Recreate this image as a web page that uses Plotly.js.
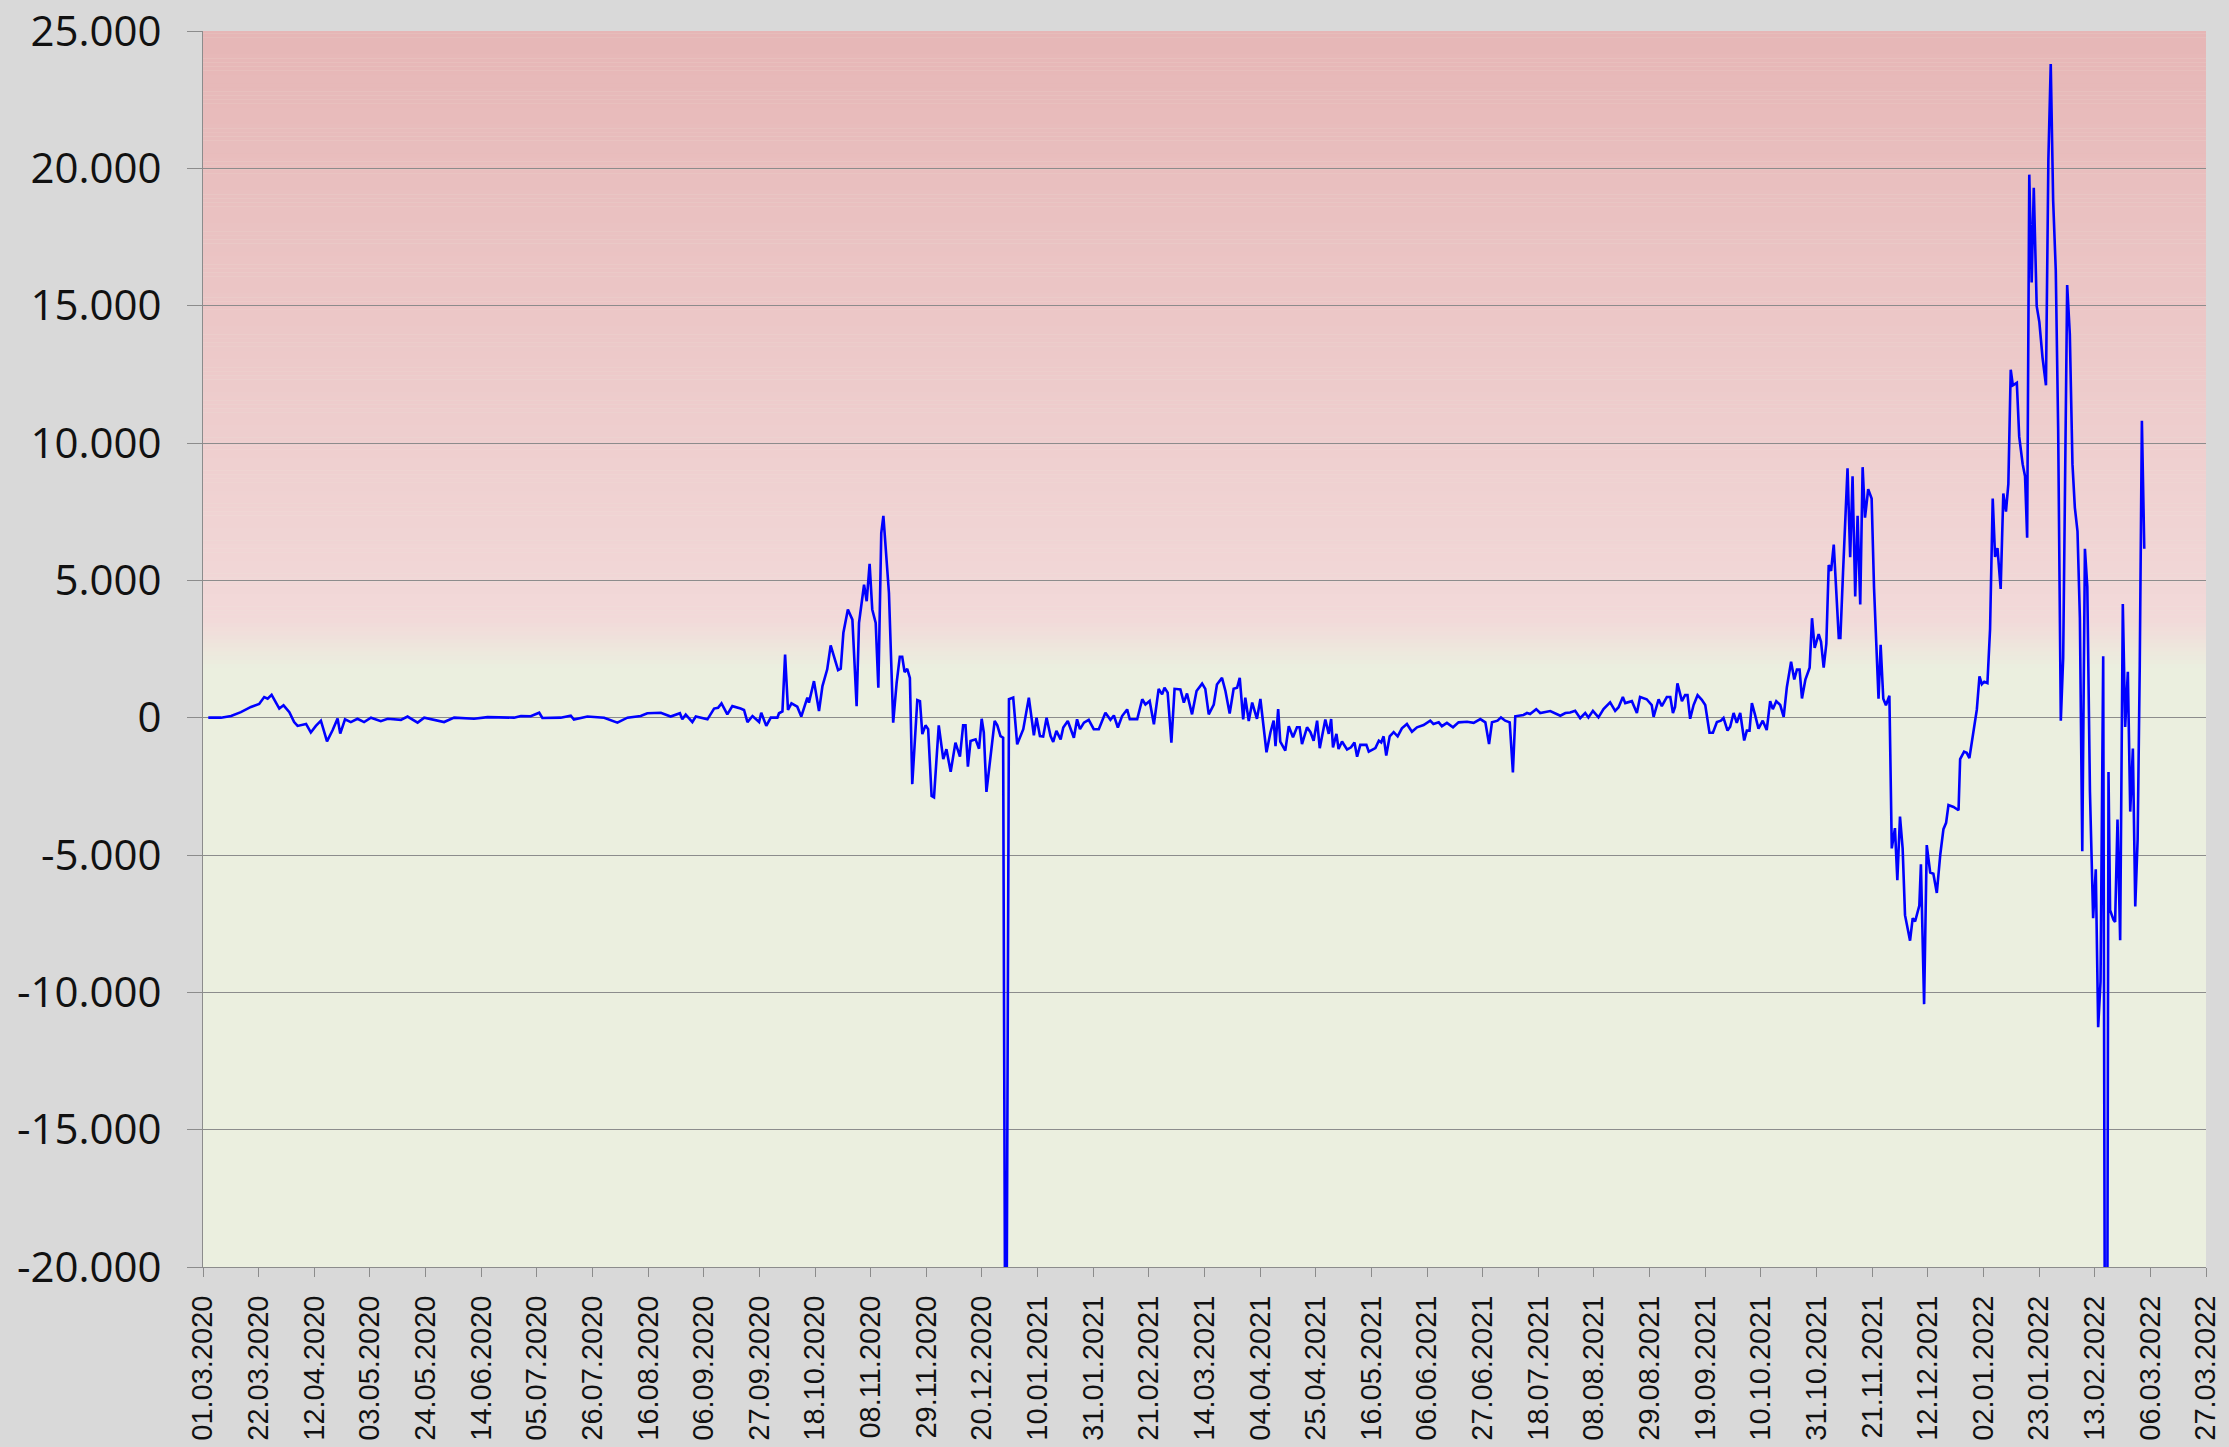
<!DOCTYPE html>
<html>
<head>
<meta charset="utf-8">
<script src="https://cdn.plot.ly/plotly-3.0.1.min.js"></script>
<style>html,body{margin:0;padding:0;background:#d9d9d9;}#chart{width:2229px;height:1447px;}</style>
</head>
<body>
<div id="chart"></div>
<script>
// ---- data (day offsets from start date, estimated values) ----
const startDate = '2020-03-01';
const dayOffset = [
2,6.8,10.6,14.3,18.1,21.2,23.1,24.4,25.9,27.5,28.8,30.4,32.6,34.4,35.7,38.9,40.7,42.6,44.5,46.8,48.9,50.8,51.8,53.6,55.8,58.3,60.8,63.4,67.1,69.7,74.7,77.2,81,83.5,91,94.8,102.3,107.4,117.4,120,123.7,126.9,128.1,135,138.8,140,
145.1,151.4,153.9,156.4,160.2,165.2,167.7,171.5,172.8,176.5,180,180.9,182.2,184.7,186,190.4,192.9,194.4,195.7,197.9,199.8,202.9,204.2,205.5,207.4,209.9,210.7,212.6,214.3,216.8,217.4,218.7,219.7,220.8,222.1,224.3,225.8,228.1,228.7,230.6,232.5,233.8,235.6,236.9,238.1,239.7,240.7,241.7,243.4,245.1,246.7,247.6,249.5,250.5,251.6,252.6,253.9,254.9,256,256.8,258.9,260.5,261.8,263,263.9,264.8,265.8,266.8,267.7,269.6,270.6,
271.5,272.7,273.7,275,275.9,277.7,279.4,280.6,282.2,284,285.7,286.9,287.8,288.7,289.7,291.6,292.9,293.9,294.7,295.7,297.2,298.8,299.8,301,302,303,304.2,305.8,307.3,309.6,311.7,313.6,314.6,315.9,317.1,318.4,319.9,320.9,322.1,323.7,324.7,326.4,328.7,329.9,331,332.5,334.3,336.2,338.1,340.6,342.5,343.8,345.3,346.9,348.8,349.8,352.6,354.5,355.7,357.3,358.9,360.7,362,362.9,364.1,365.5,366.7,368.9,370.2,371.4,373.3,375,377.1,378.3,379.6,381.5,382.7,384.6,385.9,387.5,389,390.3,391.3,392.6,393.4,394.7,396,397.8,
399.1,401.4,402.9,404.1,404.8,405.8,406.6,408.5,409.8,411.4,412.9,413.9,414.8,416.7,418,419.2,420.5,421.5,423.6,424.9,425.8,426.5,427.8,428.6,429.9,431.8,433.3,434.6,435.6,436.8,439.1,440,442.5,443.8,444.7,445.6,446.6,447.9,449.4,450.9,452.5,454.4,456.3,458.2,460.7,463.2,464.4,466.4,467.6,469.5,471.8,473.9,477.1,479.6,482.1,484,485.4,486.5,488.6,489.9,491.5,493.2,494.4,495.3,498.4,499.7,500.9,503.2,504.7,508.5,512.3,514.2,516,517.9,519.8,521.7,522.9,524.6,526.7,528.6,531.1,533,534.3,
535.9,536.8,539.3,541.2,542.4,544.9,546.8,547.5,549.4,550.6,552.5,553.8,554.8,555.6,556.5,558.2,559.4,560.3,561.3,562.6,564.1,565.7,567,568.6,569.9,571.4,572.9,573.9,575.4,576.4,577.7,578.9,580.2,581.7,582.7,583.7,584.6,585.8,587.1,588.7,590.2,591.5,592.5,593.8,595.3,596.6,597.8,599.4,600.6,601.6,602.6,603.5,604.8,606.4,607.3,608.3,609.8,610.7,611.7,612.7,613.6,614.5,615.5,617.4,618,619,620.7,621.7,622.6,623.6,624.5,625.5,626.4,627.3,628.5,629.8,630.7,632.4,
633.2,634.2,635.2,636.5,637.4,638.6,639.5,640.5,641.5,642.4,644.3,645.3,646.2,647.8,648.4,649.6,650.6,651.9,653.1,654.4,655.7,656.9,657.9,658.8,660.7,662.6,663.2,664.7,665.7,666.7,668.3,669.5,670.5,671.4,672.3,673.5,674.5,675.5,676.4,677.3,678.5,679.5,680.5,681.4,
682.3,683.1,684.6,685.5,686.8,687.7,688.5,689.3,690.2,691,692.1,693.1,694.3,695.6,696.5,697.4,698.3,699.3,700.2,701.2,702.1,703.6,704.6,705.6,706.5,707.5,708.4,709.3,710.3,711.2,712.2,713.4,714.4,715.3,716.2,717.2,718.3,719.2,719.8,721.1,721.7,722.6,723.6,724.6,725.5,726.5,727.4,728.4,729.3,730.2,731,731.8,732.7
];
const values = [
0,0,60,200,390,500,750,690,830,570,330,450,200,-160,-300,-230,-540,-300,-110,-860,-460,-30,-580,-60,-160,-40,-160,0,-130,-40,-80,40,-180,0,-160,0,-40,20,0,60,50,180,-10,0,70,-70,
40,0,-80,-180,0,60,160,160,180,40,160,-60,110,-160,40,-60,330,360,520,120,420,330,280,-160,60,-160,180,-300,0,0,160,230,2300,280,520,400,40,730,545,1330,240,1150,1760,2630,2220,1730,1780,3090,3940,3570,420,3450,4840,4240,5600,3940,3450,1090,6720,7350,4540,-180,1270,2220,2220,1660,1780,1450,-2420,640,600,
-600,-280,-420,-2850,-2900,-280,-1510,-1150,-1970,-910,-1420,-280,-280,-1780,-850,-790,-1130,-40,-540,-2700,-1330,-120,-280,-670,-730,-30000,670,730,-970,-420,730,-640,0,-670,-690,0,-670,-880,-480,-790,-360,-120,-730,-60,-420,-180,-80,-420,-420,180,-80,80,-360,60,300,-60,-60,670,480,610,-240,1050,850,1090,910,-910,1050,1030,550,880,120,970,1240,1050,120,480,1210,1450,970,150,1050,1090,1450,-60,730,-120,550,-40,
680,-1260,-530,-110,-1040,310,-870,-1200,-310,-710,-350,-350,-960,-350,-530,-840,-110,-1110,-70,-590,-50,-1080,-590,-1140,-870,-1160,-1080,-900,-1420,-990,-990,-1240,-1110,-840,-900,-680,-1380,-680,-530,-680,-390,-230,-510,-350,-270,-110,-230,-170,-310,-190,-350,-170,-150,-190,-50,-170,-960,-170,-110,10,-110,-170,-1990,50,100,170,130,310,170,240,70,170,190,250,-20,170,10,250,10,310,560,250,380,
750,530,600,170,750,670,460,30,670,420,750,750,170,390,1250,600,820,820,-40,460,820,650,460,-550,-550,-160,-110,-10,-470,-330,170,-190,170,-830,-470,-470,530,100,-400,-110,-450,600,310,600,460,30,1110,2040,1390,1750,1750,700,1390,1820,3620,2540,3040,2760,1820,2690,5560,5340,6300,2900,2900,5270,9080,5840,8790,4410,7350,4120,9120,7280,8320,7980,4740,690,
2650,690,450,800,-4760,-4020,-5920,-3600,-4760,-7190,-8120,-7300,-7420,-6840,-5340,-10430,-4640,-5640,-5680,-6380,-4990,-4060,-3830,-3180,-3250,-3370,-1510,-1240,-1280,-1470,-360,290,1500,1220,1310,1260,3230,7980,5850,6170,4690,8160,7500,8510,
12670,12100,12190,10230,9230,8790,6550,19770,15840,19290,14980,14400,13110,12100,20290,23800,18850,16270,10520,-110,2180,15750,13970,9230,7650,6780,3620,-4860,6150,4770,-2700,-7300,-5520,-11270,-9600,2240,-42000,-1980,-7010,-7360,-7440,-3710,-8100,4140,-340,1670,-3420,-1120,-6870,-4430,1900,10810,6150
];
const yTickVals = [-20000,-15000,-10000,-5000,0,5000,10000,15000,20000,25000];
const yTickText = ['-20.000','-15.000','-10.000','-5.000','0','5.000','10.000','15.000','20.000','25.000'];
const xRange = ['2020-03-01','2022-03-27'];

// ---- build ----
const DAY = 86400000;
const t0 = Date.UTC(2020,2,1);
function toDateStr(off){
  return new Date(t0 + off*DAY).toISOString().replace('T',' ').slice(0,19);
}
const xDates = dayOffset.map(toDateStr);

function hex2rgb(h){return [parseInt(h.slice(1,3),16),parseInt(h.slice(3,5),16),parseInt(h.slice(5,7),16)];}
function lerp(a,b,t){const A=hex2rgb(a),B=hex2rgb(b);return 'rgb('+A.map((v,i)=>Math.round(v+(B[i]-v)*t)).join(',')+')';}
function bgColor(v){
  if (v >= 3600) return lerp('#f2d9d9','#e6b6b6',(v-3600)/(25000-3600));
  return lerp('#ebefdf','#f2d9d9',(v-1800)/(3600-1800));
}
const shapes = [];
const step = 150;
for (let y = 1800; y < 25000; y += step) {
  shapes.push({type:'rect', xref:'paper', yref:'y', x0:0, x1:1, y0:y, y1:Math.min(y+step+10,25000),
    fillcolor:bgColor(y+step/2), line:{width:0}, layer:'below'});
}

const trace = {
  x: xDates, y: values, type:'scatter', mode:'lines',
  line:{color:'#0000ff', width:2.6}, hoverinfo:'skip'
};

const layout = {
  width:2229, height:1447,
  paper_bgcolor:'#d9d9d9', plot_bgcolor:'#ebefdf',
  margin:{l:203, r:23, t:31, b:180},
  showlegend:false,
  shapes: shapes,
  xaxis:{
    type:'date', range:xRange, tick0:'2020-03-01', dtick:21*DAY, tickformat:'%d.%m.%Y',
    tickangle:-90, ticks:'outside', ticklen:9, tickcolor:'#8c8c8c', tickwidth:1,
    showgrid:false, showline:true, linecolor:'#8c8c8c', linewidth:1, zeroline:false,
    tickfont:{family:'Liberation Sans, Arial, sans-serif', size:29, color:'#111111'},
    ticklabelstandoff:7, ticklabeloverflow:'allow', fixedrange:true
  },
  yaxis:{
    range:[-20000,25000], tickmode:'array', tickvals:yTickVals, ticktext:yTickText,
    ticks:'outside', ticklen:15, tickcolor:'#8c8c8c', tickwidth:1,
    showgrid:true, gridcolor:'#8c8c8c', gridwidth:1, showline:true, linecolor:'#8c8c8c', linewidth:1,
    zeroline:false, tickfont:{family:'Open Sans, Noto Sans, sans-serif', size:42, color:'#111111'},
    ticklabelstandoff:17, ticklabeloverflow:'allow', fixedrange:true
  }
};
Plotly.newPlot('chart',[trace],layout,{displayModeBar:false, staticPlot:true});
</script>
</body>
</html>
